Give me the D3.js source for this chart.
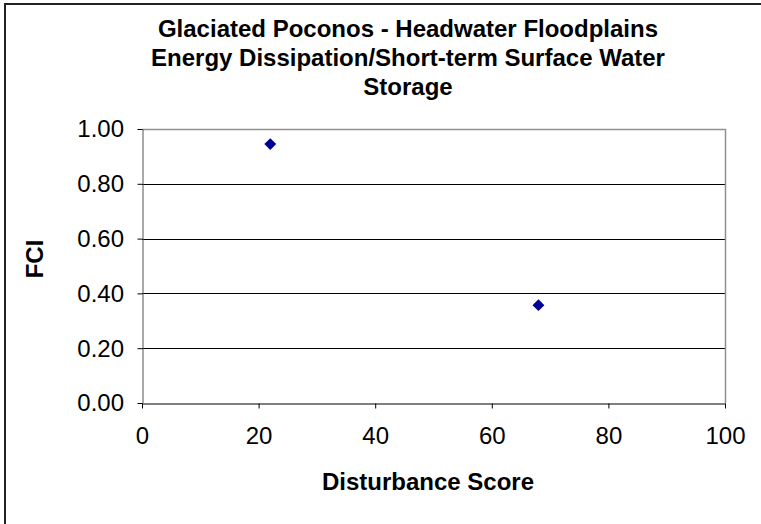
<!DOCTYPE html>
<html>
<head>
<meta charset="utf-8">
<script src="https://cdn.jsdelivr.net/npm/d3@7"></script>
<style>
html,body{margin:0;padding:0;background:#fff;}
svg{display:block;font-family:"Liberation Sans",Arial,sans-serif;}
</style>
</head>
<body>
<svg id="chart" width="761" height="524"></svg>
<script>
const titleLines = ["Glaciated Poconos - Headwater Floodplains", "Energy Dissipation/Short-term Surface Water", "Storage"];
const disturbance = [22, 68];
const fci = [0.945, 0.357];
const xTicks = [0, 20, 40, 60, 80, 100];
const yTicks = [0, 0.2, 0.4, 0.6, 0.8, 1.0];
const xLabel = "Disturbance Score";
const yLabel = "FCI";

const svg = d3.select("#chart");
const W = 761, H = 524;
const m = {left: 142, right: 725, top: 129, bottom: 403};
const FS = 24;

// outer frame
svg.append("rect").attr("x", 5).attr("y", 4).attr("width", W + 10).attr("height", H + 10)
  .attr("fill", "#fff").attr("stroke", "#222").attr("stroke-width", 2);

const x = d3.scaleLinear().domain([0, 100]).range([m.left, m.right]);
const y = d3.scaleLinear().domain([0, 1]).range([m.bottom, m.top]);

// gridlines
svg.append("g").selectAll("line").data(yTicks.filter(v => v > 0 && v < 1)).join("line")
  .attr("x1", m.left).attr("x2", m.right)
  .attr("y1", d => Math.round(y(d)) + 0.5).attr("y2", d => Math.round(y(d)) + 0.5)
  .attr("stroke", "#000").attr("stroke-width", 1);

// plot border top/right (gray)
svg.append("path")
  .attr("d", `M${m.left},${m.top + 0.5}H${m.right + 0.5}V${m.bottom}`)
  .attr("fill", "none").attr("stroke", "#909090").attr("stroke-width", 1.5);

// x axis
const xAxis = svg.append("g").attr("transform", `translate(0,${m.bottom + 0.5})`)
  .call(d3.axisBottom(x).tickValues(xTicks).tickFormat(d3.format("d")).tickSize(5).tickSizeOuter(0));
xAxis.select(".domain").attr("stroke", "#000");
xAxis.selectAll(".tick line").attr("stroke", "#000");
xAxis.selectAll("text").attr("font-size", FS).attr("fill", "#000").attr("dy", null).attr("y", 40.5)
  .attr("font-family", "'Liberation Sans', Arial, sans-serif");

// y axis
const yAxis = svg.append("g").attr("transform", `translate(${m.left + 0.5},0)`)
  .call(d3.axisLeft(y).tickValues(yTicks).tickFormat(d3.format(".2f")).tickSize(5).tickSizeOuter(0));
yAxis.select(".domain").attr("stroke", "#555");
yAxis.selectAll(".tick line").attr("stroke", "#000");
yAxis.selectAll("text").attr("font-size", FS).attr("fill", "#000").attr("x", -18.5).attr("dy", "0.33em")
  .attr("font-family", "'Liberation Sans', Arial, sans-serif");

// points (diamonds)
const sym = d3.symbol().type(d3.symbolDiamond2).size(90);
svg.append("g").selectAll("path").data(disturbance.map((d, i) => [d, fci[i]])).join("path")
  .attr("d", sym)
  .attr("transform", d => `translate(${x(d[0])},${y(d[1])})`)
  .attr("fill", "#000099");

// title
svg.append("g").selectAll("text").data(titleLines).join("text")
  .attr("x", 408).attr("y", (d, i) => 37 + i * 29)
  .attr("text-anchor", "middle").attr("font-weight", "bold").attr("font-size", FS)
  .attr("fill", "#000").text(d => d);

// axis titles
svg.append("text").attr("x", 428).attr("y", 490)
  .attr("text-anchor", "middle").attr("font-weight", "bold").attr("font-size", FS).text(xLabel);
svg.append("text").attr("transform", `translate(43,259) rotate(-90)`)
  .attr("text-anchor", "middle").attr("font-weight", "bold").attr("font-size", FS).text(yLabel);
</script>
</body>
</html>
